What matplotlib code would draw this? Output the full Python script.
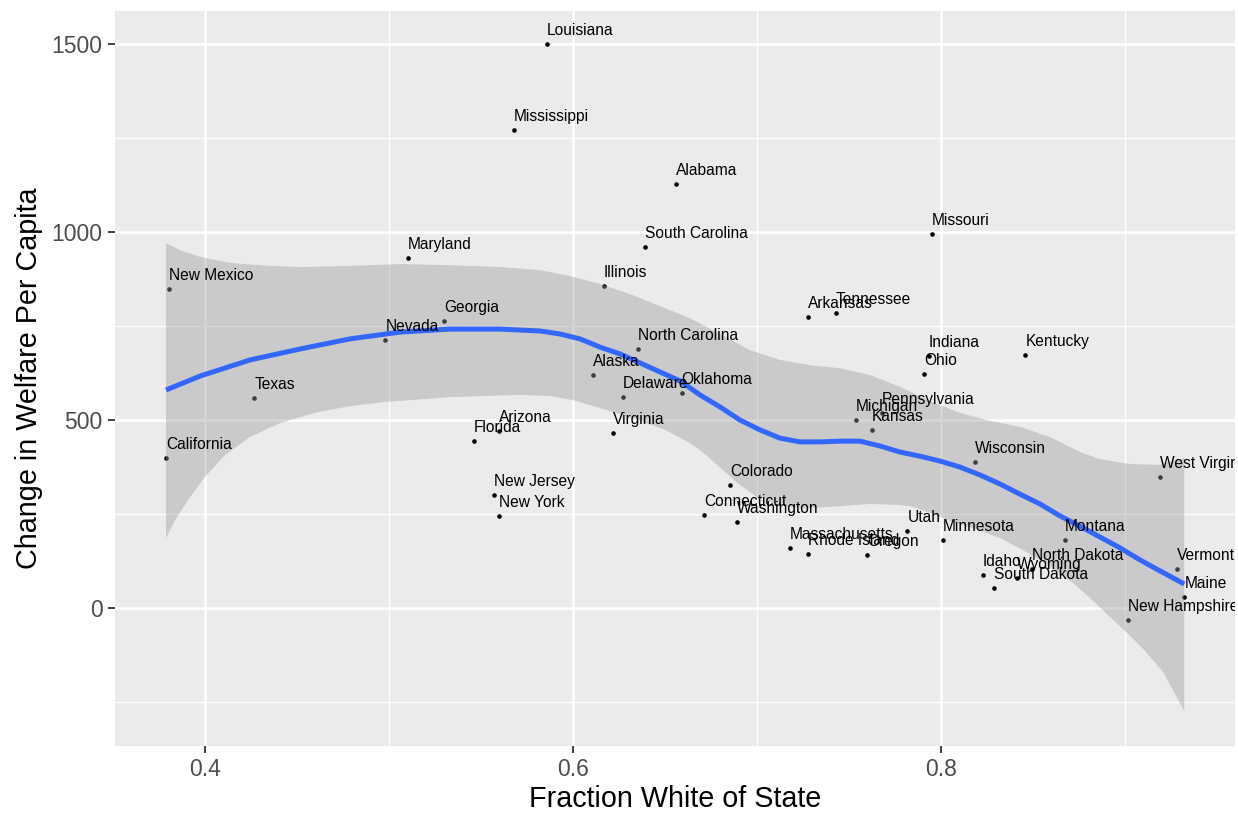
import numpy as np
import matplotlib
matplotlib.use("Agg")
import matplotlib.pyplot as plt
from matplotlib.ticker import MultipleLocator

plt.rcParams["font.family"] = ["Liberation Sans", "DejaVu Sans"]

# state-level data: fraction white vs. change in welfare per capita
states = ["Louisiana", "Mississippi", "Alabama", "South Carolina", "Missouri",
          "Maryland", "Illinois", "New Mexico", "Georgia", "Nevada", "Texas",
          "California", "Florida", "Arizona", "Virginia", "New Jersey",
          "New York", "Colorado", "Connecticut", "Washington", "Massachusetts",
          "Rhode Island", "Oregon", "Utah", "Minnesota", "North Carolina",
          "Alaska", "Delaware", "Oklahoma", "Arkansas", "Tennessee", "Indiana",
          "Ohio", "Kentucky", "Michigan", "Kansas", "Pennsylvania", "Wisconsin",
          "Montana", "Idaho", "South Dakota", "Wyoming", "North Dakota",
          "Vermont", "Maine", "New Hampshire", "West Virginia"]
frac_white = [0.5859, 0.5679, 0.6560, 0.6391, 0.7951,
              0.5103, 0.6168, 0.3803, 0.5299, 0.4980, 0.4268,
              0.3788, 0.5462, 0.5599, 0.6219, 0.5571,
              0.5598, 0.6855, 0.6714, 0.6890, 0.7178,
              0.7277, 0.7599, 0.7817, 0.8009, 0.6352,
              0.6110, 0.6273, 0.6591, 0.7277, 0.7429, 0.7935,
              0.7909, 0.8458, 0.7538, 0.7625, 0.7679, 0.8183,
              0.8675, 0.8228, 0.8290, 0.8411, 0.8493,
              0.9283, 0.9322, 0.9015, 0.9190]
welfare_change = [1499, 1270, 1127, 959, 994,
                  930, 856, 847, 763, 712, 557,
                  398, 444, 470, 464, 301,
                  245, 327, 246, 229, 160,
                  144, 140, 205, 180, 688,
                  620, 560, 570, 773, 783, 669,
                  622, 671, 498, 473, 517, 388,
                  180, 87, 52, 78, 103,
                  103, 29, -33, 348]

# loess fit
fit_x = [0.3788, 0.3973, 0.4245, 0.4516, 0.4788, 0.5060, 0.5332, 0.5603,
         0.5821, 0.5929, 0.6038, 0.6147, 0.6255, 0.6364, 0.6473, 0.6582,
         0.6690, 0.6799, 0.6908, 0.7016, 0.7125, 0.7234, 0.7342, 0.7451,
         0.7560, 0.7669, 0.7777, 0.7886, 0.7995, 0.8103, 0.8212, 0.8321,
         0.8429, 0.8538, 0.8647, 0.8755, 0.8864, 0.8973, 0.9082, 0.9190,
         0.9322]
fit_y = [579, 616, 659, 688, 715, 733, 741, 741,
         736, 728, 715, 693, 675, 651, 627, 603,
         566, 534, 499, 473, 451, 441, 441, 443,
         443, 430, 414, 403, 390, 374, 353, 329,
         302, 276, 244, 217, 188, 159, 127, 98,
         63]

# confidence band, upper and lower edges
band_hi_x = [0.3788, 0.3864, 0.3973, 0.4136, 0.4353, 0.4516, 0.4788, 0.5060,
             0.5332, 0.5603, 0.5821, 0.5984, 0.6147, 0.6310, 0.6473, 0.6636,
             0.6799, 0.6962, 0.7125, 0.7288, 0.7451, 0.7614, 0.7777, 0.7940,
             0.8103, 0.8266, 0.8429, 0.8592, 0.8755, 0.8864, 0.9027, 0.9190,
             0.9322]
band_hi = [970, 951, 933, 917, 909, 906, 909, 914,
           911, 906, 898, 882, 861, 834, 802, 770,
           728, 685, 659, 645, 637, 619, 587, 550,
           518, 497, 481, 454, 414, 395, 382, 380,
           398]
band_lo_x = [0.3788, 0.3837, 0.3919, 0.3995, 0.4109, 0.4245, 0.4408, 0.4609,
             0.4788, 0.4973, 0.5332, 0.5696, 0.5875, 0.6000, 0.6147, 0.6255,
             0.6364, 0.6500, 0.6636, 0.6717, 0.6815, 0.6908, 0.7000, 0.7098,
             0.7179, 0.7272, 0.7451, 0.7614, 0.7777, 0.7848, 0.7940, 0.8049,
             0.8174, 0.8321, 0.8446, 0.8592, 0.8717, 0.8810, 0.8902, 0.9011,
             0.9109, 0.9207, 0.9322]
band_lo = [185, 233, 294, 345, 406, 454, 491, 520,
           536, 547, 560, 566, 563, 552, 531, 515,
           497, 473, 438, 409, 366, 326, 294, 276,
           268, 265, 270, 276, 273, 268, 252, 231,
           212, 185, 153, 111, 66, 26, -17, -67,
           -115, -171, -275]

fig = plt.figure(figsize=(12.38, 8.13), dpi=100)
ax = fig.add_axes([115 / 1238, 1 - 745.7 / 813, 1120 / 1238, 734.7 / 813])
ax.set_facecolor("#EBEBEB")
for s in ax.spines.values():
    s.set_visible(False)

ax.scatter(frac_white, welfare_change, s=11, color="black", linewidths=0, zorder=3)

# band polygon: upper edge left->right, lower edge right->left
poly_x = list(band_hi_x) + list(band_lo_x[::-1])
poly_y = list(band_hi) + list(band_lo[::-1])
ax.fill(poly_x, poly_y, color="#999999", alpha=0.4, linewidth=0, zorder=4)
ax.plot(fit_x, fit_y, color="#3366FF", lw=3.6, solid_capstyle="butt",
        solid_joinstyle="round", zorder=5)

for name, x, y in zip(states, frac_white, welfare_change):
    ax.annotate(name, (x, y), xytext=(0, 9), textcoords="offset pixels",
                ha="left", va="baseline", fontsize=11.2, color="black",
                clip_on=True, zorder=6)

ax.set_xlim(0.35109, 0.95978)
ax.set_ylim(-367, 1587)
ax.xaxis.set_minor_locator(MultipleLocator(0.1))
ax.yaxis.set_minor_locator(MultipleLocator(250))
ax.set_xticks([0.4, 0.6, 0.8])
ax.set_xticklabels(["0.4", "0.6", "0.8"])
ax.set_yticks([0, 500, 1000, 1500])
ax.grid(which="major", color="white", lw=1.8, zorder=0)
ax.grid(which="minor", color="white", lw=0.9, zorder=0)
ax.set_axisbelow(True)
ax.tick_params(which="major", length=5, width=1.3, color="#333333",
               labelsize=16.5, labelcolor="#4D4D4D", pad=4)
ax.tick_params(which="minor", length=0)

ax.set_xlabel("Fraction White of State", fontsize=20.7, labelpad=3)
ax.set_ylabel("Change in Welfare Per Capita", fontsize=20.7, labelpad=6)

fig.savefig("out.png", dpi=100)
